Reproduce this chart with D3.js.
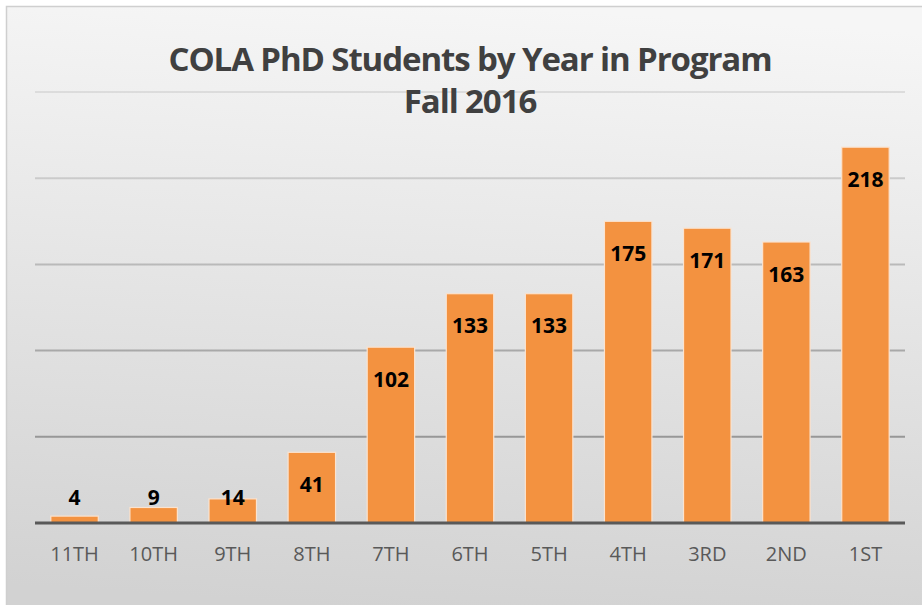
<!DOCTYPE html>
<html>
<head>
<meta charset="utf-8">
<script src="https://cdn.jsdelivr.net/npm/d3@7"></script>
<style>
  body { margin: 0; background: #fff; }
  svg { display: block; font-family: "Open Sans", sans-serif; }
</style>
</head>
<body>
<svg width="922" height="605"></svg>
<script>
'use strict';

const categories = ["11TH", "10TH", "9TH", "8TH", "7TH", "6TH", "5TH", "4TH", "3RD", "2ND", "1ST"];
const students = [4, 9, 14, 41, 102, 133, 133, 175, 171, 163, 218];
const gridTicks = [0, 50, 100, 150, 200, 250];
const titleLines = ["COLA PhD Students by Year in Program", "Fall 2016"];

const svg = d3.select("svg");
const width = +svg.attr("width");
const height = +svg.attr("height");

const plotLeft = 35, plotRight = 905, plotTop = 92, plotBottom = 523;

const defs = svg.append("defs");
const bg = defs.append("linearGradient")
    .attr("id", "bg")
    .attr("x1", 0.55).attr("y1", 0)
    .attr("x2", 0.45).attr("y2", 1);
bg.append("stop").attr("offset", 0).attr("stop-color", "#f6f6f6");
bg.append("stop").attr("offset", 1).attr("stop-color", "#d2d2d2");

const gridGrad = defs.append("linearGradient")
    .attr("id", "gridGrad")
    .attr("gradientUnits", "userSpaceOnUse")
    .attr("x1", 0).attr("y1", plotTop)
    .attr("x2", 0).attr("y2", plotBottom);
gridGrad.append("stop").attr("offset", 0).attr("stop-color", "#dcdcdc");
gridGrad.append("stop").attr("offset", 1).attr("stop-color", "#868686");

// chart area frame
svg.append("rect")
    .attr("x", 6.5).attr("y", 6.5)
    .attr("width", width).attr("height", height)
    .attr("fill", "url(#bg)")
    .attr("stroke", "#cfcfcf")
    .attr("stroke-width", 1.5);

const x = d3.scaleBand()
    .domain(categories)
    .range([plotLeft, plotRight])
    .paddingInner(0.4)
    .paddingOuter(0.2);

const y = d3.scaleLinear()
    .domain([0, 250])
    .range([plotBottom, plotTop]);

// gridlines
svg.append("g")
    .selectAll("line")
    .data(gridTicks.filter(d => d > 0))
    .join("line")
    .attr("x1", plotLeft).attr("x2", plotRight)
    .attr("y1", d => y(d)).attr("y2", d => y(d))
    .attr("stroke", "url(#gridGrad)")
    .attr("stroke-width", 2);

// bars
svg.append("g")
    .selectAll("rect")
    .data(students)
    .join("rect")
    .attr("x", (d, i) => x(categories[i]))
    .attr("y", d => y(d))
    .attr("width", x.bandwidth())
    .attr("height", d => y(0) - y(d))
    .attr("fill", "#f39240")
    .attr("stroke", "#fbe3cf")
    .attr("stroke-width", 1.2);

// baseline axis
svg.append("line")
    .attr("x1", plotLeft).attr("x2", plotRight)
    .attr("y1", y(0)).attr("y2", y(0))
    .attr("stroke", "#595959")
    .attr("stroke-width", 3);

// category labels
const xAxis = svg.append("g")
    .attr("transform", `translate(0,${y(0)})`)
    .call(d3.axisBottom(x).tickSize(0).tickPadding(24));
xAxis.select(".domain").remove();
xAxis.selectAll("text")
    .attr("font-family", "'Open Sans', sans-serif")
    .attr("font-size", 20)
    .attr("fill", "#595959");

// value labels
svg.append("g")
    .selectAll("text")
    .data(students)
    .join("text")
    .attr("x", (d, i) => x(categories[i]) + x.bandwidth() / 2)
    .attr("y", d => Math.min(y(d) + 32, y(0) - 26))
    .attr("dy", "0.36em")
    .attr("text-anchor", "middle")
    .attr("font-size", 21)
    .attr("font-weight", "bold")
    .attr("fill", "#000")
    .text(d => d);

// title: bigger type, tightened to the reference width
const titleSize = 33;
const title = svg.append("g")
    .attr("font-weight", "bold")
    .attr("font-size", titleSize)
    .attr("fill", "#404040")
    .attr("text-anchor", "middle");
const t1 = title.append("text")
    .attr("x", (plotLeft + plotRight) / 2)
    .attr("y", 71)
    .text(titleLines[0]);
const w = t1.node().getComputedTextLength();
const ls = (603 - w) / titleLines[0].length;
title.attr("letter-spacing", ls);
title.append("text")
    .attr("x", (plotLeft + plotRight) / 2)
    .attr("y", 113)
    .text(titleLines[1]);
</script>
</body>
</html>
